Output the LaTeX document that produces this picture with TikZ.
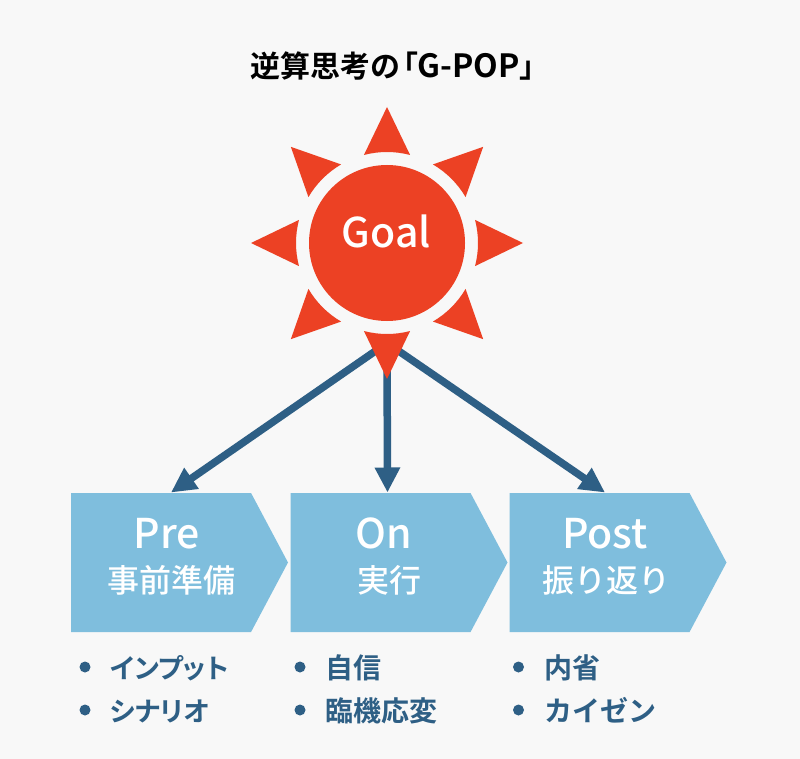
\documentclass[tikz,border=0pt]{standalone}
\usepackage{fontspec}
\usetikzlibrary{arrows.meta,shapes.symbols}
\setmainfont{Noto Sans CJK JP}[BoldFont={Noto Sans CJK JP Bold}]
\newfontfamily\mediumjp{Noto Sans CJK JP Medium}
\newfontfamily\boldjp{Noto Sans CJK JP Bold}
\newfontfamily\palted{Noto Sans CJK JP Bold}[RawFeature=+palt]
\definecolor{bgc}{HTML}{F8F8F8}
\definecolor{sunc}{HTML}{EC4124}
\definecolor{boxc}{HTML}{7FBEDD}
\definecolor{darkc}{HTML}{2E5F85}
\tikzset{
  px/.style={x=1pt,y=-1pt},
  chevron/.style={signal,signal to=east,signal pointer angle=124,fill=boxc,draw=none,
    minimum width=217pt,minimum height=139pt,inner sep=0pt,outer sep=0pt,anchor=west},
  conn/.style={draw=darkc,line width=7.5pt,-{Triangle[length=25pt,width=24pt]}},
  ttl/.style={anchor=base west,inner sep=0pt,font=\palted\fontsize{30}{30}\selectfont,text=black},
  big/.style={anchor=base,inner sep=0pt,font=\mediumjp\fontsize{41}{41}\selectfont,text=white},
  sub/.style={anchor=base,inner sep=0pt,font=\mediumjp\fontsize{32}{32}\selectfont,text=white},
  item/.style={anchor=base west,inner sep=0pt,font=\boldjp\fontsize{28}{28}\selectfont,text=darkc},
  kana/.style={anchor=base west,inner sep=0pt,font=\palted\fontsize{27}{27}\selectfont,text=darkc},
  dotm/.style={circle,fill=darkc,minimum size=11pt,inner sep=0pt}
}
\begin{document}
\begin{tikzpicture}[px]
\path[use as bounding box,fill=bgc] (0,0) rectangle (800,759);
\node[ttl] (title) at (250,78) {逆算思考の\hspace{3pt}「{\fontsize{32}{32}\selectfont G-POP}」};
\node[circle,fill=sunc,minimum size=156pt,inner sep=0pt] (sun) at (387,243) {};
\node[chevron] (pre) at (71,562.5) {};
\node[chevron] (on) at (290.5,562.5) {};
\node[chevron] (post) at (509.5,562.5) {};
\coordinate (hub) at (387,343);
\coordinate (preIn) at (171,492.5);
\coordinate (onIn) at (387.5,492.5);
\coordinate (postIn) at (605,492.5);
\draw[conn] (hub) -- (preIn);
\draw[conn] (hub) -- (onIn);
\draw[conn] (hub) -- (postIn);
\foreach \a in {0,45,...,315}{
  \fill[sunc,shift={(387,243)}] (\a:136pt) -- (\a+14.7:91pt)
    arc[start angle=\a+14.7,end angle=\a-14.7,radius=91pt] -- cycle;
}
\node[big] (goal) at (386.5,248) {Goal};
\node[big] (pret) at (167,548) {Pre};
\node[big] (ont) at (384,548) {On};
\node[big] (postt) at (605,548) {Post};
\node[sub] (pres) at (171,592) {事前準備};
\node[sub] (ons) at (389,592) {実行};
\node[sub] (posts) at (606.5,592) {振り返り};
\node[dotm] (d1) at (85,667) {};
\node[dotm] (d2) at (85,710) {};
\node[dotm] (d3) at (300,667) {};
\node[dotm] (d4) at (300,710) {};
\node[dotm] (d5) at (518.5,667) {};
\node[dotm] (d6) at (518.5,710) {};
\node[kana] (i1) at (110,678) {インプット};
\node[kana] (i2) at (110,721) {シナリオ};
\node[item] (i3) at (325,678) {自信};
\node[item] (i4) at (325,721) {臨機応変};
\node[item] (i5) at (544,678) {内省};
\node[item] (i6) at (544,721) {カイゼン};
\end{tikzpicture}
\end{document}
